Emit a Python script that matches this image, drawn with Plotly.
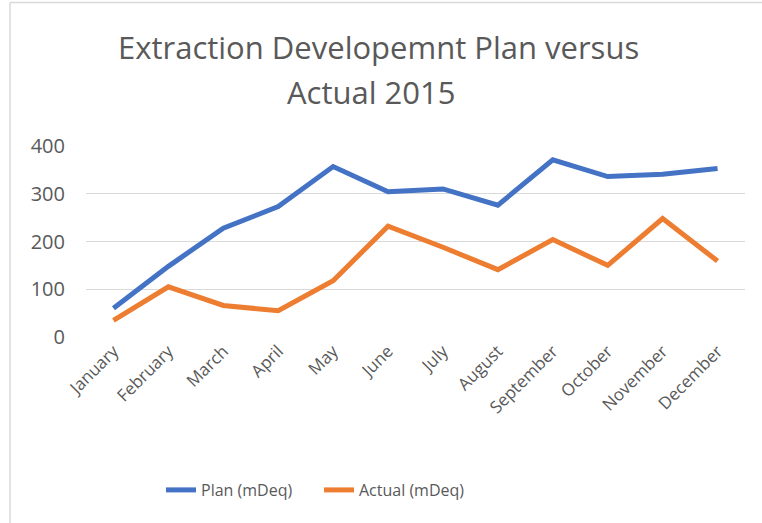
import plotly.graph_objects as go

months = ["January", "February", "March", "April", "May", "June", "July",
          "August", "September", "October", "November", "December"]
plan = [60, 148, 228, 273, 357, 304, 310, 276, 371, 336, 341, 353]
actual = [35, 105, 66, 55, 118, 232, 188, 141, 204, 150, 248, 159]
y_ticks = [0, 100, 200, 300, 400]
title_lines = ["Extraction Developemnt Plan versus", "Actual 2015"]

FONT = "Open Sans"
GREY = "#595959"

fig = go.Figure()
fig.add_trace(go.Scatter(x=months, y=plan, mode="lines", name="Plan (mDeq)",
                         line=dict(color="#4472C4", width=5)))
fig.add_trace(go.Scatter(x=months, y=actual, mode="lines", name="Actual (mDeq)",
                         line=dict(color="#ED7D31", width=5)))

L, R, T, B = 86, 17, 146, 186
W, H = 762, 523
pw, ph = W - L - R, H - T - B

def px(x):
    return (x - L) / pw

def py(y):
    return (H - B - y) / ph

fig.update_layout(
    width=W, height=H,
    margin=dict(l=L, r=R, t=T, b=B, autoexpand=False),
    paper_bgcolor="white", plot_bgcolor="white",
    font=dict(family=FONT, color=GREY),
    showlegend=True,
    legend=dict(orientation="h", x=px(161), y=py(490), xanchor="left",
                yanchor="middle", font=dict(size=16, color=GREY),
                entrywidth=113, entrywidthmode="pixels",
                bgcolor="rgba(0,0,0,0)"),
    xaxis=dict(type="category", range=[-0.5, 11.5], showgrid=False,
               showline=False, zeroline=False, tickangle=-45,
               tickfont=dict(size=17, color=GREY, family=FONT), ticks="",
               automargin=False),
    yaxis=dict(range=[0, 400], tickvals=y_ticks, showgrid=True,
               gridcolor="#D9D9D9", gridwidth=1, zeroline=False,
               showline=False, ticks="", automargin=False,
               tickfont=dict(size=20, color=GREY, family=FONT),
               ticklabelstandoff=20),
    annotations=[
        dict(text=title_lines[0], x=px(378), y=py(47), xref="paper", yref="paper",
             showarrow=False, xanchor="center", yanchor="middle",
             font=dict(size=31, color=GREY, family=FONT)),
        dict(text=title_lines[1], x=px(371), y=py(92), xref="paper", yref="paper",
             showarrow=False, xanchor="center", yanchor="middle",
             font=dict(size=31, color=GREY, family=FONT)),
    ],
    shapes=[
        dict(type="line", xref="paper", yref="paper", x0=px(10), x1=px(W + 5),
             y0=py(2.5), y1=py(2.5), line=dict(color="#D9D9D9", width=1.5)),
        dict(type="line", xref="paper", yref="paper", x0=px(10), x1=px(10),
             y0=py(2.5), y1=py(H + 5), line=dict(color="#D9D9D9", width=1.5)),
    ],
)

fig.write_html("out.html", config={"displayModeBar": False},
               post_script="document.body.style.margin='0';")
